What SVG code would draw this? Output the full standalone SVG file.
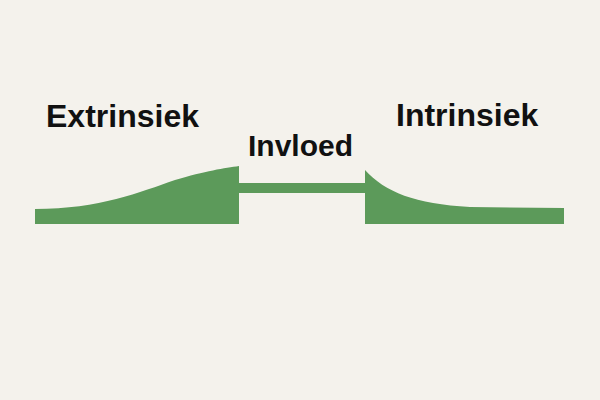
<svg xmlns="http://www.w3.org/2000/svg" width="600" height="400" viewBox="0 0 600 400">
<style>
.t{font-family:"Liberation Sans",Arial,sans-serif;font-weight:bold;fill:#111;}
.g{fill:#5c9a5a;}
</style>
<rect width="600" height="400" fill="#f4f2ec"/>
<g id="connectors">
<rect class="g" x="238" y="183" width="128" height="10"/>
</g>
<g id="extrinsiek">
<path class="g" d="M35,224 L35,209 C100,209 140,192 175,180 C205,171 225,168 239,166 L239,224 Z"/>
<text class="t" x="46" y="127" font-size="32">Extrinsiek</text>
</g>
<g id="invloed">
<text class="t" x="248" y="156" font-size="30">Invloed</text>
</g>
<g id="intrinsiek">
<path class="g" d="M365,224 L365,170 C385,192 415,204 470,207 L564,208 L564,224 Z"/>
<text class="t" x="396" y="126" font-size="32">Intrinsiek</text>
</g>
</svg>
